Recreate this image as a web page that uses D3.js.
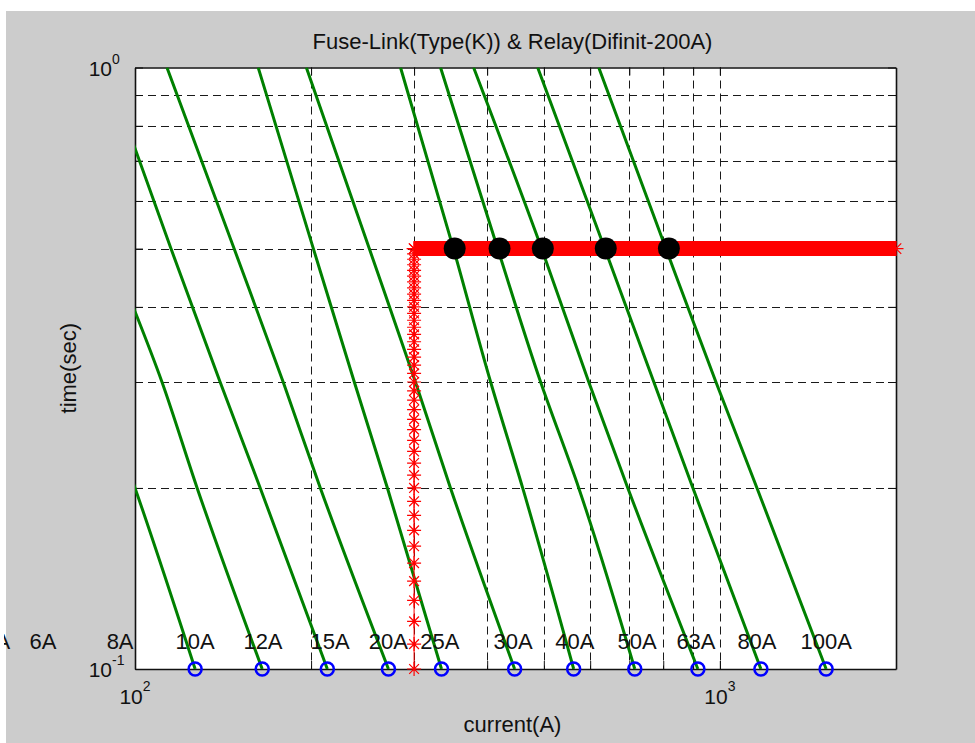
<!DOCTYPE html>
<html>
<head>
<meta charset="utf-8">
<script src="https://cdn.jsdelivr.net/npm/d3@7"></script>
<style>
  html, body { margin: 0; padding: 0; background: #fff; }
  svg { display: block; font-family: "Liberation Sans", Arial, sans-serif; }
</style>
</head>
<body>
<div id="chart"></div>
<script>
// axis limits and grid values
var xDomain = [100, 2000];
var yDomain = [0.1, 1];
var xGrid = [200, 300, 400, 500, 600, 700, 800, 900, 1000];
var yGrid = [0.2, 0.3, 0.4, 0.5, 0.6, 0.7, 0.8, 0.9];
var xMajor = [100, 1000];
var yMajor = [0.1, 1];

// fuse-link curves (Type K): current at each of the times below
var curveTimes = [1, 0.5, 0.3, 0.2, 0.1];
var fuse10A  = [55.1, 71.2, 86.1, 100, 126.7];
var fuse12A  = [70.5, 90.8, 111.2, 127.7, 165.0];
var fuse15A  = [89.2, 115.2, 139.8, 163.7, 213.2];
var fuse20A  = [113.4, 147.7, 179.2, 207.4, 271.2];
var fuse25A  = [162.4, 201.8, 237.1, 270.1, 334.2];
var fuse30A  = [196.3, 251.5, 301.6, 346.2, 445.7];
var fuse40A  = [284.4, 350.3, 405.5, 460.0, 562.3];
var fuse50A  = [332.9, 416.9, 493.7, 573.6, 715.2];
var fuse63A  = [379.2, 495.6, 596.7, 695.8, 916.9];
var fuse80A  = [488.0, 635.5, 770.9, 899.1, 1175];
var fuse100A = [620.6, 808.4, 984.4, 1157, 1519];
var fuseCurves = [fuse10A, fuse12A, fuse15A, fuse20A, fuse25A, fuse30A,
                  fuse40A, fuse50A, fuse63A, fuse80A, fuse100A];

// rating labels written above the 0.1 s points
var labelNames = ['5A', '6A', '8A', '10A', '12A', '15A', '20A', '25A', '30A', '40A', '50A', '63A', '80A', '100A'];
var labelCurrents = [58, 69.6, 94.3, 126.7, 165.5, 215.5, 271, 332, 443, 565, 722, 910, 1157, 1520];
var labelTime = 0.11;

// definite time relay
var relayPickup = 300;
var relayDelay = 0.5;
var relayBandCurrents = [300, 2000];
var relayStarTimes = [0.10, 0.11, 0.12, 0.13, 0.14, 0.15, 0.16, 0.17, 0.18, 0.19,
                      0.20, 0.21, 0.22, 0.23, 0.24, 0.25, 0.26, 0.27, 0.28, 0.29,
                      0.30, 0.31, 0.32, 0.33, 0.34, 0.35, 0.36, 0.37, 0.38, 0.39,
                      0.40, 0.41, 0.42, 0.43, 0.44, 0.45, 0.46, 0.47, 0.48, 0.49, 0.50];

// coordination points (fuse curve meets relay)
var tripCurrents = [352, 420, 498, 638, 818];

var W = 975, H = 743;
var plot = { left: 135, top: 67.5, right: 896, bottom: 669 };

var x = d3.scaleLog().domain(xDomain).range([plot.left, plot.right]);
var y = d3.scaleLog().domain(yDomain).range([plot.bottom, plot.top]);

var svg = d3.select("#chart").append("svg")
    .attr("width", W)
    .attr("height", H);

var defs = svg.append("defs");
defs.append("clipPath").attr("id", "plot-clip")
    .append("rect")
    .attr("x", plot.left).attr("y", plot.top)
    .attr("width", plot.right - plot.left).attr("height", plot.bottom - plot.top);
defs.append("clipPath").attr("id", "fig-clip")
    .append("rect")
    .attr("x", 4).attr("y", 11).attr("width", W - 4).attr("height", H - 11);

// figure background (matlab grey) and white axes
svg.append("rect")
    .attr("x", 6).attr("y", 11)
    .attr("width", W - 6).attr("height", H - 11)
    .attr("fill", "#cccccc");

svg.append("rect")
    .attr("x", plot.left).attr("y", plot.top)
    .attr("width", plot.right - plot.left).attr("height", plot.bottom - plot.top)
    .attr("fill", "#fff");

// dashed grid
var grid = svg.append("g").attr("class", "grid")
    .attr("stroke", "#1a1a1a")
    .attr("stroke-width", 1)
    .attr("stroke-dasharray", "8,5");

grid.selectAll(".gx").data(xGrid).enter().append("line")
    .attr("x1", function(d) { return Math.round(x(d)) + 0.5; })
    .attr("x2", function(d) { return Math.round(x(d)) + 0.5; })
    .attr("y1", plot.top).attr("y2", plot.bottom);

grid.selectAll(".gy").data(yGrid).enter().append("line")
    .attr("y1", function(d) { return Math.round(y(d)) + 0.5; })
    .attr("y2", function(d) { return Math.round(y(d)) + 0.5; })
    .attr("x1", plot.left).attr("x2", plot.right);

// box with inward ticks on all four sides
var tickVals = xGrid.concat(xMajor);
var axes = [
    svg.append("g").attr("transform", "translate(0," + plot.bottom + ")")
        .call(d3.axisBottom(x).tickValues(tickVals).tickSizeInner(-8).tickSizeOuter(0).tickFormat("")),
    svg.append("g").attr("transform", "translate(0," + plot.top + ")")
        .call(d3.axisTop(x).tickValues(tickVals).tickSizeInner(-8).tickSizeOuter(0).tickFormat("")),
    svg.append("g").attr("transform", "translate(" + plot.left + ",0)")
        .call(d3.axisLeft(y).tickValues(yGrid.concat(yMajor)).tickSizeInner(-8).tickSizeOuter(0).tickFormat("")),
    svg.append("g").attr("transform", "translate(" + plot.right + ",0)")
        .call(d3.axisRight(y).tickValues(yGrid.concat(yMajor)).tickSizeInner(-8).tickSizeOuter(0).tickFormat(""))
];
axes.forEach(function(g) {
    g.select(".domain").attr("stroke", "#111").attr("stroke-width", 1.6);
    g.selectAll(".tick line").attr("stroke", "#111");
});

// fuse curves
var line = d3.line()
    .x(function(d) { return x(d[0]); })
    .y(function(d) { return y(d[1]); })
    .curve(d3.curveMonotoneY);

svg.append("g")
    .attr("clip-path", "url(#plot-clip)")
    .selectAll("path")
    .data(fuseCurves)
    .enter().append("path")
    .attr("d", function(c) {
        return line(c.map(function(I, i) { return [I, curveTimes[i]]; }));
    })
    .attr("fill", "none")
    .attr("stroke", "#008000")
    .attr("stroke-width", 3);

// blue open circles at 0.1 s
svg.append("g").selectAll("circle")
    .data(fuseCurves)
    .enter().append("circle")
    .attr("cx", function(c) { return x(c[c.length - 1]); })
    .attr("cy", y(0.1))
    .attr("r", 6.5)
    .attr("fill", "none")
    .attr("stroke", "#0000ff")
    .attr("stroke-width", 2.5);

// relay characteristic
var starPath = function(r) {
    var d = r * 0.7;
    return "M" + (-r) + ",0H" + r + "M0," + (-r) + "V" + r +
        "M" + (-d) + "," + (-d) + "L" + d + "," + d +
        "M" + (-d) + "," + d + "L" + d + "," + (-d);
};

var relay = svg.append("g").attr("class", "relay");

relay.append("line")
    .attr("x1", x(relayPickup)).attr("x2", x(relayPickup))
    .attr("y1", y(relayStarTimes[0])).attr("y2", y(relayDelay))
    .attr("stroke", "#ff0000").attr("stroke-width", 1);

relay.append("line")
    .attr("x1", x(relayBandCurrents[0])).attr("x2", x(relayBandCurrents[1]))
    .attr("y1", y(relayDelay)).attr("y2", y(relayDelay))
    .attr("stroke", "#ff0000").attr("stroke-width", 15);

relay.selectAll(".vstar").data(relayStarTimes).enter().append("path")
    .attr("transform", function(t) { return "translate(" + x(relayPickup) + "," + y(t) + ")"; })
    .attr("d", starPath(7))
    .attr("fill", "none").attr("stroke", "#ff0000").attr("stroke-width", 1.2);

relay.selectAll(".hstar").data(relayBandCurrents).enter().append("path")
    .attr("transform", function(I) { return "translate(" + x(I) + "," + y(relayDelay) + ")"; })
    .attr("d", starPath(7.5))
    .attr("fill", "none").attr("stroke", "#ff0000").attr("stroke-width", 1.2);

// black coordination dots
svg.append("g").selectAll("circle")
    .data(tripCurrents)
    .enter().append("circle")
    .attr("cx", function(I) { return x(I); })
    .attr("cy", y(relayDelay))
    .attr("r", 11)
    .attr("fill", "#000");

// rating labels (not clipped by the axes)
svg.append("g")
    .attr("clip-path", "url(#fig-clip)")
    .selectAll("text")
    .data(labelNames)
    .enter().append("text")
    .attr("x", function(d, i) { return x(labelCurrents[i]); })
    .attr("y", y(labelTime))
    .attr("dy", "0.22em")
    .attr("text-anchor", "middle")
    .style("font-size", "22px")
    .attr("fill", "#111")
    .text(function(d) { return d; });

// tick labels 10^n
xMajor.forEach(function(v) {
    var t = svg.append("text")
        .attr("x", x(v))
        .attr("y", plot.bottom + 35)
        .attr("text-anchor", "middle")
        .style("font-size", "21px")
        .attr("fill", "#111");
    t.append("tspan").text("10");
    t.append("tspan").attr("dy", -13).style("font-size", "14px")
        .text(Math.round(Math.log10(v)));
});

yMajor.forEach(function(v) {
    svg.append("text")
        .attr("x", plot.left - 23)
        .attr("y", y(v) + 8)
        .attr("text-anchor", "end")
        .style("font-size", "21px")
        .attr("fill", "#111")
        .text("10");
    svg.append("text")
        .attr("x", plot.left - 23)
        .attr("y", y(v) - 4)
        .style("font-size", "14px")
        .attr("fill", "#111")
        .text(Math.round(Math.log10(v)));
});

// title and axis labels
svg.append("text")
    .attr("x", (plot.left + plot.right) / 2 - 3)
    .attr("y", 49)
    .attr("text-anchor", "middle")
    .style("font-size", "22px")
    .attr("fill", "#111")
    .text("Fuse-Link(Type(K)) & Relay(Difinit-200A)");

svg.append("text")
    .attr("x", (plot.left + plot.right) / 2 - 3)
    .attr("y", 732)
    .attr("text-anchor", "middle")
    .style("font-size", "22px")
    .attr("fill", "#111")
    .text("current(A)");

svg.append("text")
    .attr("transform", "translate(76," + ((plot.top + plot.bottom) / 2) + ") rotate(-90)")
    .attr("text-anchor", "middle")
    .style("font-size", "22px")
    .attr("fill", "#111")
    .text("time(sec)");
</script>
</body>
</html>
